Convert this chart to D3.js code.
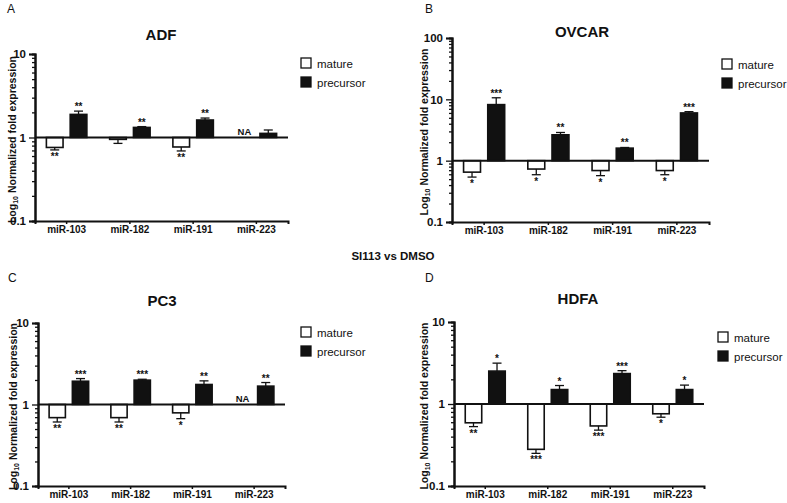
<!DOCTYPE html>
<html>
<head>
<meta charset="utf-8">
<script src="https://cdn.jsdelivr.net/npm/d3@7"></script>
<style>
  body { margin: 0; background: #fff; }
  svg text { font-family: Arial, "Liberation Sans", sans-serif; fill: #111; }
</style>
</head>
<body>
<svg id="chart" width="787" height="503"></svg>
<script>
// miRNA fold expression, SI113 vs DMSO, four cell lines
const categories = ["miR-103", "miR-182", "miR-191", "miR-223"];
const series = ["mature", "precursor"];

// ADF
const adfMature = [0.76, 0.95, 0.77, null];
const adfMatureErr = [0.71, 0.85, 0.69, null];
const adfMatureStars = ["**", "", "**", "NA"];
const adfPrecursor = [1.89, 1.32, 1.62, 1.12];
const adfPrecursorErr = [2.07, 1.35, 1.71, 1.23];
const adfPrecursorStars = ["**", "**", "**", ""];

// OVCAR
const ovcarMature = [0.65, 0.73, 0.69, 0.69];
const ovcarMatureErr = [0.54, 0.59, 0.57, 0.59];
const ovcarMatureStars = ["*", "*", "*", "*"];
const ovcarPrecursor = [8.2, 2.64, 1.6, 6.0];
const ovcarPrecursorErr = [10.6, 2.88, 1.64, 6.3];
const ovcarPrecursorStars = ["***", "**", "**", "***"];

// PC3
const pc3Mature = [0.69, 0.69, 0.79, null];
const pc3MatureErr = [0.61, 0.61, 0.67, null];
const pc3MatureStars = ["**", "**", "*", "NA"];
const pc3Precursor = [1.93, 1.99, 1.76, 1.68];
const pc3PrecursorErr = [2.08, 2.04, 1.95, 1.86];
const pc3PrecursorStars = ["***", "***", "**", "**"];

// HDFA
const hdfaMature = [0.59, 0.28, 0.54, 0.76];
const hdfaMatureErr = [0.53, 0.25, 0.48, 0.69];
const hdfaMatureStars = ["**", "***", "***", "*"];
const hdfaPrecursor = [2.52, 1.5, 2.35, 1.5];
const hdfaPrecursorErr = [3.15, 1.68, 2.55, 1.7];
const hdfaPrecursorStars = ["*", "*", "***", "*"];

const yTicksSmall = [0.1, 1, 10];
const yTicksLarge = [0.1, 1, 10, 100];

// panel placement (pixels)
const panels = [
    { letter: "A", title: "ADF", x0: 35, x1: 288, yTop: 54, yBot: 221, yMax: 10, ticks: yTicksSmall,
      lx: 7, ly: 13, tx: 161, ty: 40, labX: 12, legX: 301, legY: 58,
      mature: adfMature, matureErr: adfMatureErr, matureStars: adfMatureStars,
      precursor: adfPrecursor, precursorErr: adfPrecursorErr, precursorStars: adfPrecursorStars },
    { letter: "B", title: "OVCAR", x0: 452, x1: 709, yTop: 38, yBot: 222, yMax: 100, ticks: yTicksLarge,
      lx: 425, ly: 13, tx: 582, ty: 37, labX: 424, legX: 722, legY: 59,
      mature: ovcarMature, matureErr: ovcarMatureErr, matureStars: ovcarMatureStars,
      precursor: ovcarPrecursor, precursorErr: ovcarPrecursorErr, precursorStars: ovcarPrecursorStars },
    { letter: "C", title: "PC3", x0: 38, x1: 285, yTop: 323, yBot: 486, yMax: 10, ticks: yTicksSmall,
      lx: 8, ly: 282, tx: 162, ty: 306, labX: 13, legX: 301, legY: 327,
      mature: pc3Mature, matureErr: pc3MatureErr, matureStars: pc3MatureStars,
      precursor: pc3Precursor, precursorErr: pc3PrecursorErr, precursorStars: pc3PrecursorStars },
    { letter: "D", title: "HDFA", x0: 454, x1: 704, yTop: 322, yBot: 486, yMax: 10, ticks: yTicksSmall,
      lx: 425, ly: 282, tx: 578, ty: 304, labX: 424, legX: 718, legY: 332,
      mature: hdfaMature, matureErr: hdfaMatureErr, matureStars: hdfaMatureStars,
      precursor: hdfaPrecursor, precursorErr: hdfaPrecursorErr, precursorStars: hdfaPrecursorStars }
];

const svg = d3.select("#chart");
const ink = "#111";

svg.append("text")
    .attr("x", 393).attr("y", 260)
    .attr("text-anchor", "middle")
    .attr("font-size", 11.5).attr("font-weight", "bold")
    .text("SI113 vs DMSO");

panels.forEach(p => drawPanel(p));

function drawPanel(p) {
    const g = svg.append("g");

    const y = d3.scaleLog().domain([0.1, p.yMax]).range([p.yBot, p.yTop]);
    const x = d3.scaleBand().domain(categories).range([p.x0, p.x1]);
    const bw = x.bandwidth();
    const gw = bw * 0.64;
    const xs = d3.scaleBand().domain(series)
        .range([(bw - gw) / 2, (bw + gw) / 2])
        .paddingInner(0.3);

    // letter + title
    g.append("text").attr("x", p.lx).attr("y", p.ly)
        .attr("font-size", 12).text(p.letter);
    g.append("text").attr("x", p.tx).attr("y", p.ty)
        .attr("text-anchor", "middle")
        .attr("font-size", 15).attr("font-weight", "bold").text(p.title);

    // y axis label with subscript
    const lab = g.append("text")
        .attr("transform", `translate(${p.labX},${(p.yTop + p.yBot) / 2 + 2}) rotate(-90)`)
        .attr("text-anchor", "middle").attr("dominant-baseline", "central")
        .attr("font-size", 10.5).attr("font-weight", "bold");
    lab.append("tspan").text("Log");
    lab.append("tspan").attr("font-size", 7).attr("dy", 3).text("10");
    lab.append("tspan").attr("dy", -3).text(" Normalized fold expression");

    // bars
    const rows = categories.map((c, i) => ({ c, i }));
    [["mature", "white"], ["precursor", ink]].forEach(([s, fill]) => {
        const vals = p[s], errs = p[s + "Err"], stars = p[s + "Stars"];
        rows.forEach(({ c, i }) => {
            const bx = x(c) + xs(s);
            const cx = bx + xs.bandwidth() / 2;
            const v = vals[i];
            if (v == null) {
                if (stars[i] === "NA") {
                    g.append("text").attr("x", cx).attr("y", y(1) - 3)
                        .attr("text-anchor", "middle")
                        .attr("font-size", 9.5).attr("font-weight", "bold").text("NA");
                }
                return;
            }
            const top = Math.min(y(v), y(1));
            const h = Math.abs(y(v) - y(1));
            g.append("rect")
                .attr("x", bx).attr("y", top)
                .attr("width", xs.bandwidth()).attr("height", h)
                .attr("fill", fill).attr("stroke", ink).attr("stroke-width", 1.6);
            const e = errs[i];
            g.append("line")
                .attr("x1", cx).attr("x2", cx).attr("y1", y(v)).attr("y2", y(e))
                .attr("stroke", ink).attr("stroke-width", 1.3);
            g.append("line")
                .attr("x1", cx - 4.5).attr("x2", cx + 4.5).attr("y1", y(e)).attr("y2", y(e))
                .attr("stroke", ink).attr("stroke-width", 1.3);
            if (stars[i]) {
                const below = v < 1;
                g.append("text").attr("x", cx)
                    .attr("y", below ? y(e) + 10 : y(e) - 1)
                    .attr("text-anchor", "middle")
                    .attr("font-size", 10).attr("font-weight", "bold")
                    .text(stars[i]);
            }
        });
    });

    // baseline at 1
    g.append("line")
        .attr("x1", p.x0).attr("x2", p.x1).attr("y1", y(1)).attr("y2", y(1))
        .attr("stroke", ink).attr("stroke-width", 2);

    // y axis with minor log ticks
    const minor = [];
    for (let d = 0.1; d < p.yMax; d *= 10) {
        for (let k = 2; k <= 9; k++) minor.push(+(d * k).toPrecision(3));
    }
    const yAxis = g.append("g").attr("transform", `translate(${p.x0},0)`);
    yAxis.call(d3.axisLeft(y).tickValues(minor).tickSize(3).tickFormat(""));
    yAxis.append("g").call(d3.axisLeft(y).tickValues(p.ticks).tickSize(6)
        .tickFormat(d => d < 1 ? "0.1" : String(d)));
    yAxis.selectAll("path").attr("stroke", ink).attr("stroke-width", 2);
    yAxis.selectAll("line").attr("stroke", ink).attr("stroke-width", 1.3);
    yAxis.selectAll("text").attr("font-size", 11.5).attr("font-weight", "bold")
        .attr("fill", ink).attr("font-family", "Arial, 'Liberation Sans', sans-serif");

    // x axis at bottom
    const xAxis = g.append("g").attr("transform", `translate(0,${p.yBot})`)
        .call(d3.axisBottom(x).tickSizeOuter(0).tickSize(3).tickPadding(2));
    xAxis.select("path").attr("stroke", ink).attr("stroke-width", 2);
    xAxis.selectAll("line").attr("stroke", ink).attr("stroke-width", 1.5);
    xAxis.selectAll("text").attr("font-size", 10).attr("font-weight", "bold")
        .attr("fill", ink).attr("font-family", "Arial, 'Liberation Sans', sans-serif");

    // legend
    series.forEach((s, i) => {
        const ly = p.legY + i * 19;
        g.append("rect").attr("x", p.legX).attr("y", ly)
            .attr("width", 10).attr("height", 10)
            .attr("fill", s === "mature" ? "white" : ink)
            .attr("stroke", ink).attr("stroke-width", 1.3);
        g.append("text").attr("x", p.legX + 16).attr("y", ly + 9.5)
            .attr("font-size", 11.5).text(s);
    });
}
</script>
</body>
</html>
